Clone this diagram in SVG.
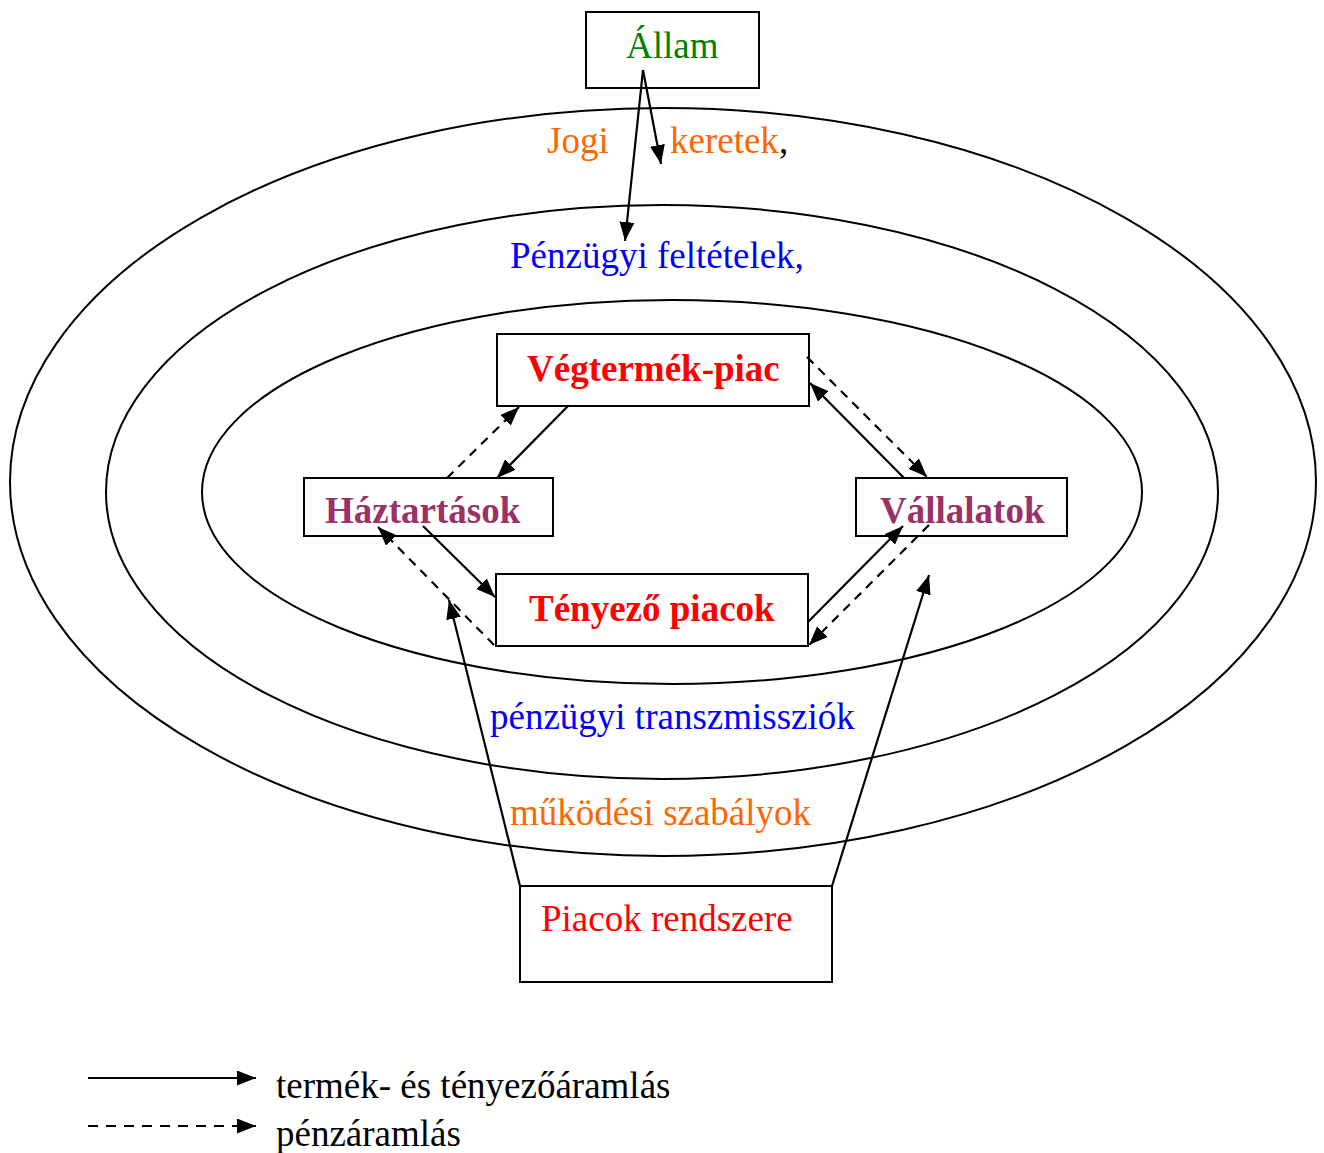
<svg xmlns="http://www.w3.org/2000/svg" width="1324" height="1153" viewBox="0 0 1324 1153">
<style>
text{font-family:"Liberation Serif","Times New Roman",serif;font-size:37px}
.b{font-weight:bold}
.box{fill:#fff;stroke:#000;stroke-width:2}
.ring{fill:none;stroke:#000;stroke-width:2}
.a{stroke:#000;stroke-width:2.2;fill:none;marker-end:url(#ah)}
.d{stroke-dasharray:9 7}
</style>
<defs>
<marker id="ah" markerUnits="userSpaceOnUse" markerWidth="20" markerHeight="16" refX="19" refY="7.5" orient="auto">
<path d="M0,0 L19,7.5 L0,15 z" fill="#000"/>
</marker>
</defs>
<rect width="1324" height="1153" fill="#fff"/>
<g id="rings">
<ellipse class="ring" cx="663" cy="482" rx="653" ry="374"/>
<ellipse class="ring" cx="662" cy="492" rx="556" ry="287"/>
<ellipse class="ring" cx="672" cy="492" rx="470" ry="192"/>
</g>
<g id="ring-labels">
<text x="547" y="153" fill="#FF6600">Jogi</text>
<text x="670" y="153" fill="#FF6600">keretek<tspan fill="#000">,</tspan></text>
<text x="510" y="268" fill="#0000FF">Pénzügyi feltételek,</text>
<text x="490" y="729" fill="#0000FF">pénzügyi transzmissziók</text>
<text x="510" y="825" fill="#FF6600">működési szabályok</text>
</g>
<g id="allam">
<rect class="box" x="586" y="12" width="173" height="76"/>
<text x="626" y="58" fill="#008000">Állam</text>
</g>
<g id="vegtermek">
<rect class="box" x="497" y="334" width="312" height="72"/>
<text class="b" x="527" y="381" fill="#FF0000">Végtermék-piac</text>
</g>
<g id="haztartasok">
<rect class="box" x="304" y="478" width="249" height="58"/>
<text class="b" x="325" y="523" fill="#993366">Háztartások</text>
</g>
<g id="vallalatok">
<rect class="box" x="856" y="478" width="211" height="58"/>
<text class="b" x="880" y="523" fill="#993366">Vállalatok</text>
</g>
<g id="tenyezo">
<rect class="box" x="496" y="574" width="312" height="72"/>
<text class="b" x="529" y="621" fill="#FF0000">Tényező piacok</text>
</g>
<g id="piacok">
<rect class="box" x="520" y="886" width="312" height="96"/>
<text x="541" y="931" fill="#FF0000">Piacok rendszere</text>
</g>
<g id="connectors">
<path class="a" d="M643,70 L661,164"/>
<path class="a" d="M643,70 L625,241"/>
<path class="a" d="M568,406 L497,478"/>
<path class="a d" d="M447,478 L519,407"/>
<path class="a" d="M904,478 L810,383"/>
<path class="a d" d="M807,357 L927,477"/>
<path class="a" d="M423,526 L495,597"/>
<path class="a d" d="M494,645 L378,527"/>
<path class="a" d="M808,622 L903,526"/>
<path class="a d" d="M929,525 L809,645"/>
<path class="a" d="M520,886 L449,600"/>
<path class="a" d="M832,886 L929,575"/>
</g>
<g id="legend">
<path class="a" d="M88,1078 L256,1078"/>
<path class="a" d="M88,1126 L256,1126" stroke-dasharray="10 8"/>
<text x="276" y="1098" fill="#000">termék- és tényezőáramlás</text>
<text x="276" y="1146" fill="#000">pénzáramlás</text>
</g>
</svg>
